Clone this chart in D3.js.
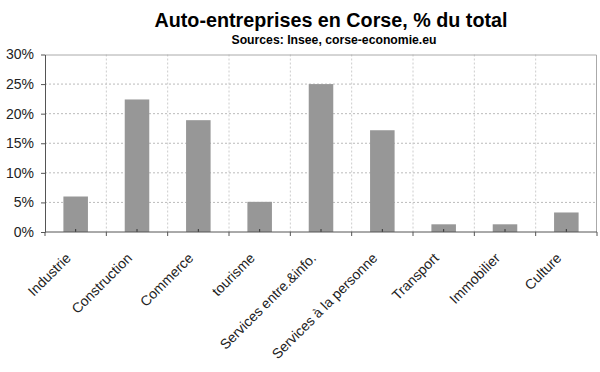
<!DOCTYPE html>
<html>
<head>
<meta charset="utf-8">
<script src="https://cdn.jsdelivr.net/npm/d3@7"></script>
<style>
  body { margin: 0; background: #fff; }
  svg { display: block; font-family: "Liberation Sans", Arial, sans-serif; }
</style>
</head>
<body>
<svg id="chart"></svg>
<script>
const categories = ["Industrie", "Construction", "Commerce", "tourisme", "Services entre.&info.",
  "Services à la personne", "Transport", "Immobilier", "Culture"];
const values = [6.0, 22.4, 18.9, 5.1, 25.0, 17.2, 1.3, 1.3, 3.3];
const yTicks = [0, 5, 10, 15, 20, 25, 30];

const width = 600;
const height = 372;
const margin = { top: 54.5, right: 3, bottom: 140, left: 45 };
const innerW = width - margin.left - margin.right;
const innerH = height - margin.top - margin.bottom;

const svg = d3.select("#chart").attr("width", width).attr("height", height);

// titles
svg.append("text")
  .attr("x", 331).attr("y", 26.5)
  .attr("text-anchor", "middle")
  .attr("font-weight", "bold")
  .attr("font-size", 20)
  .attr("textLength", 353)
  .attr("lengthAdjust", "spacingAndGlyphs")
  .text("Auto-entreprises en Corse, % du total");

svg.append("text")
  .attr("x", 334).attr("y", 43.5)
  .attr("text-anchor", "middle")
  .attr("font-weight", "bold")
  .attr("font-size", 12.5)
  .attr("textLength", 205)
  .attr("lengthAdjust", "spacingAndGlyphs")
  .text("Sources: Insee, corse-economie.eu");

const g = svg.append("g").attr("transform", `translate(${margin.left},${margin.top})`);

const x = d3.scaleBand().domain(categories).range([0, innerW]).paddingInner(0.6).paddingOuter(0.3);
const xCat = d3.scaleBand().domain(categories).range([0, innerW]);
const y = d3.scaleLinear().domain([0, 30]).range([innerH, 0]);

// horizontal gridlines
g.append("g")
  .selectAll("line")
  .data(yTicks.slice(1, -1))
  .enter()
  .append("line")
  .attr("x1", 0).attr("x2", innerW)
  .attr("y1", (d) => y(d)).attr("y2", (d) => y(d))
  .attr("stroke", "#bbb")
  .attr("stroke-dasharray", "2,2");

// vertical gridlines at category boundaries
g.append("g")
  .selectAll("line")
  .data(categories.slice(1))
  .enter()
  .append("line")
  .attr("x1", (d) => xCat(d)).attr("x2", (d) => xCat(d))
  .attr("y1", 0).attr("y2", innerH)
  .attr("stroke", "#ccc")
  .attr("stroke-dasharray", "2,2");

// border top/right
g.append("path")
  .attr("d", `M0,0.5H${innerW - 0.5}V${innerH}`)
  .attr("fill", "none")
  .attr("stroke", "#aaa");

// bars
g.selectAll(".bar")
  .data(values)
  .enter()
  .append("rect")
  .attr("class", "bar")
  .attr("x", (d, i) => x(categories[i]))
  .attr("y", (d) => y(d))
  .attr("width", x.bandwidth())
  .attr("height", (d) => innerH - y(d))
  .attr("fill", "#979797");

// small ticks at bar centers
g.append("g")
  .selectAll("line")
  .data(categories)
  .enter()
  .append("line")
  .attr("x1", (d) => xCat(d) + xCat.bandwidth() / 2)
  .attr("x2", (d) => xCat(d) + xCat.bandwidth() / 2)
  .attr("y1", innerH).attr("y2", innerH - 3)
  .attr("stroke", "#333");

// y axis
const yAxis = g.append("g")
  .call(d3.axisLeft(y).tickValues(yTicks).tickFormat((d) => d + "%").tickSize(4).tickSizeOuter(0));
yAxis.select(".domain").attr("stroke", "#555");
yAxis.selectAll(".tick line").attr("stroke", "#555");
yAxis.selectAll("text").attr("font-size", 14).attr("fill", "#222")
  .attr("font-family", "Liberation Sans, Arial, sans-serif").attr("dx", -4);

// x axis: ticks at category boundaries
const boundaries = d3.range(categories.length + 1).map((i) => i * xCat.step());
const xAxisG = g.append("g").attr("transform", `translate(0,${innerH})`);
xAxisG.append("line")
  .attr("x1", 0).attr("x2", innerW)
  .attr("stroke", "#555");
xAxisG.selectAll(".bt")
  .data(boundaries)
  .enter()
  .append("line")
  .attr("class", "bt")
  .attr("x1", (d) => d).attr("x2", (d) => d)
  .attr("y1", 0).attr("y2", 4)
  .attr("stroke", "#555");

xAxisG.selectAll(".lbl")
  .data(categories)
  .enter()
  .append("text")
  .attr("class", "lbl")
  .attr("text-anchor", "end")
  .attr("font-size", 14)
  .attr("fill", "#222")
  .attr("transform", (d) => `translate(${xCat(d) + xCat.bandwidth() / 2 - 4},${27}) rotate(-45)`)
  .text((d) => d);
</script>
</body>
</html>
